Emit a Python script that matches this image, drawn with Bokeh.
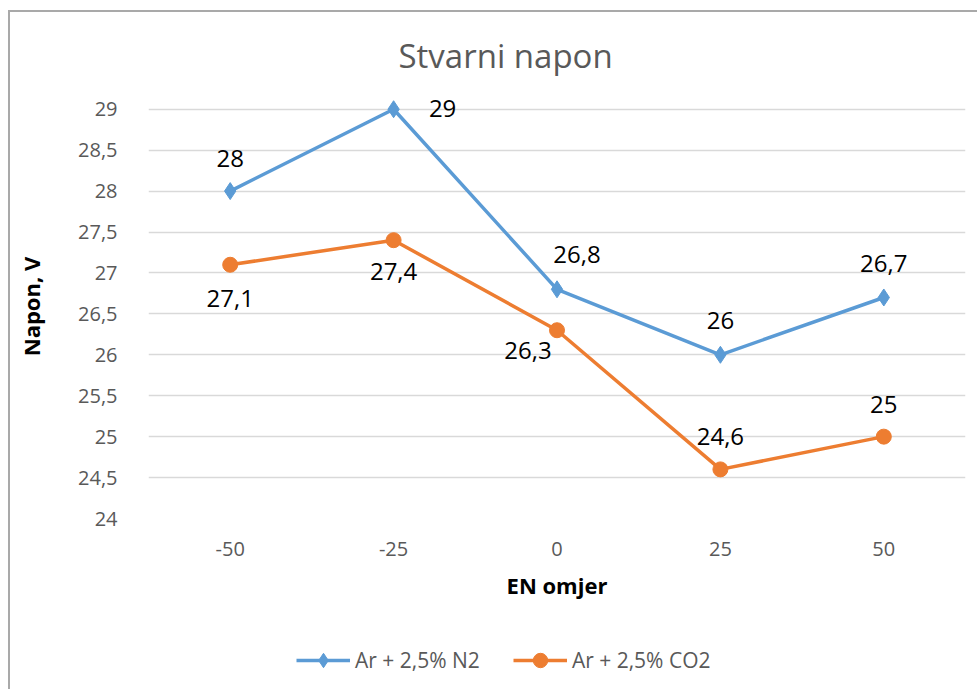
from bokeh.plotting import figure
from bokeh.layouts import column
from bokeh.models import ColumnDataSource, FactorRange, Range1d, FixedTicker, Legend, LegendItem
from bokeh.core.properties import value
from bokeh.embed import file_html
from bokeh.resources import INLINE

# ---- data ----
categories = ["-50", "-25", "0", "25", "50"]
n2_values = [28.0, 29.0, 26.8, 26.0, 26.7]
co2_values = [27.1, 27.4, 26.3, 24.6, 25.0]
y_ticks = [24, 24.5, 25, 25.5, 26, 26.5, 27, 27.5, 28, 28.5, 29]
y_tick_labels = ["24", "24,5", "25", "25,5", "26", "26,5", "27", "27,5", "28", "28,5", "29"]
series_names = ["Ar + 2,5% N2", "Ar + 2,5% CO2"]
title_text = "Stvarni napon"
x_title = "EN omjer"
y_title = "Napon, V"

# data label placement (screen px offsets)
n2_dx = [0, 49, 20, 0, 0]
n2_dy = [-33, -1, -35, -34, -34]
co2_dx = [0, 0, -29, 0, 0]
co2_dy = [34, 31, 20, -33, -32]

FONT = "Open Sans"
BLUE = "#5B9BD5"
ORANGE = "#ED7D31"
GRAY_TXT = "#595959"


def fmt(v):
    return f"{v:g}".replace(".", ",")


W = 967
H_PLOT, H_LEG = 606, 71

# ---------------- main chart ----------------
p = figure(x_range=FactorRange(*categories), y_range=Range1d(24, 29.18),
           width=W, height=H_PLOT, output_backend="svg", toolbar_location=None,
           min_border_left=138, min_border_right=12, min_border_top=82, min_border_bottom=100)
p.outline_line_color = None
p.background_fill_color = "white"
p.border_fill_color = "white"

p.title.text = title_text
p.title.align = "left"
p.title.offset = 250
p.title.standoff = 34
p.title.text_font = FONT
p.title.text_font_size = "33px"
p.title.text_font_style = "normal"
p.title.text_color = GRAY_TXT

p.xgrid.grid_line_color = None
p.ygrid.grid_line_color = "#D9D9D9"
p.ygrid.grid_line_width = 1.5
p.yaxis.ticker = FixedTicker(ticks=y_ticks)
p.ygrid.ticker = FixedTicker(ticks=y_ticks)
p.yaxis.major_label_overrides = {t: l for t, l in zip(y_ticks, y_tick_labels)}
for ax in (p.xaxis[0], p.yaxis[0]):
    ax.axis_line_color = None
    ax.major_tick_line_color = None
    ax.minor_tick_line_color = None
    ax.major_label_text_font = FONT
    ax.major_label_text_font_size = "20px"
    ax.major_label_text_color = GRAY_TXT
    ax.axis_label_text_font = FONT
    ax.axis_label_text_font_size = "22px"
    ax.axis_label_text_font_style = "bold"
    ax.axis_label_text_color = "black"
p.xaxis.axis_label = x_title
p.yaxis.axis_label = y_title
p.xaxis.major_label_standoff = 17
p.xaxis.axis_label_standoff = 11
p.yaxis.major_label_standoff = 25
p.yaxis.axis_label_standoff = 29

src_n2 = ColumnDataSource(dict(x=categories, y=n2_values, t=[fmt(v) for v in n2_values], dx=n2_dx, dy=n2_dy))
src_co2 = ColumnDataSource(dict(x=categories, y=co2_values, t=[fmt(v) for v in co2_values], dx=co2_dx, dy=co2_dy))
sources = [src_n2, src_co2]

line_kw = [dict(line_color=BLUE, line_width=3.5), dict(line_color=ORANGE, line_width=3.5)]
mark_kw = [dict(marker="diamond", size=17, fill_color=BLUE, line_color=BLUE),
           dict(marker="circle", size=15, fill_color=ORANGE, line_color=ORANGE)]

for src, lk, mk in zip(sources, line_kw, mark_kw):
    p.line("x", "y", source=src, **lk)
    p.scatter("x", "y", source=src, **mk)
    p.text("x", "y", text="t", source=src, x_offset="dx", y_offset="dy",
           text_font=value(FONT), text_font_size="24px", text_color="black",
           text_align="center", text_baseline="middle")

# ---------------- legend strip (same series, view window outside the data) ----------------
leg = figure(width=W, height=H_LEG, output_backend="svg", toolbar_location=None,
             x_range=p.x_range, y_range=Range1d(0, 1),
             x_axis_type=None, y_axis_type=None, min_border=0)
leg.outline_line_color = None
leg.background_fill_color = "white"
leg.border_fill_color = "white"
items = []
for name, src, lk, mk in zip(series_names, sources, line_kw, mark_kw):
    r_line = leg.line("x", "y", source=src, **lk)
    r_mark = leg.scatter("x", "y", source=src, **mk)
    items.append(LegendItem(label=name, renderers=[r_line, r_mark]))

legend = Legend(items=items, orientation="horizontal", location=(148, 11),
                padding=0, margin=0, spacing=33, glyph_width=54, glyph_height=36,
                label_standoff=5, border_line_color=None, background_fill_alpha=0,
                label_text_font=FONT, label_text_font_size="21px", label_text_color=GRAY_TXT)
leg.add_layout(legend, "center")

layout = column(p, leg, spacing=0)
layout.styles = {"margin-left": "8px", "margin-top": "10px",
                 "border-left": "2px solid #a9a9a9", "border-top": "2px solid #a9a9a9"}

open("out.html", "w").write(file_html(layout, INLINE))
